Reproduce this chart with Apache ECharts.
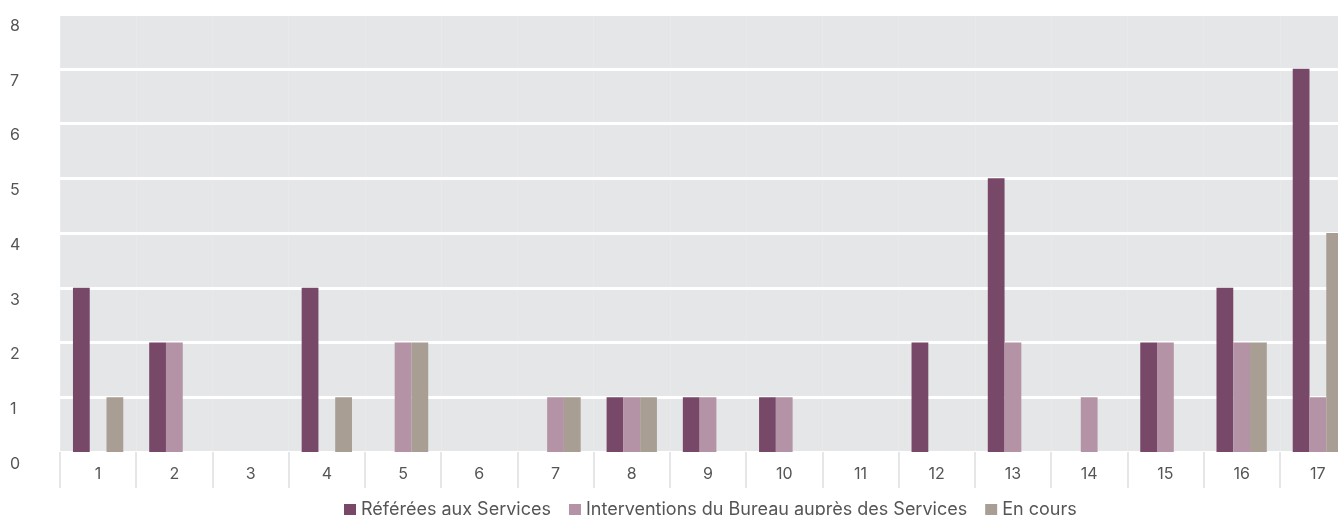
<!DOCTYPE html>
<html>
<head>
<meta charset="utf-8">
<script src="https://cdn.jsdelivr.net/npm/echarts@6/dist/echarts.min.js"></script>
<style>
  html, body { margin: 0; padding: 0; background: #ffffff; overflow: hidden; }
  #chart { width: 1338px; height: 515px; }
</style>
</head>
<body>
<div id="chart"></div>
<script>
// Categories along the x axis
const categories = ['1','2','3','4','5','6','7','8','9','10','11','12','13','14','15','16','17'];

// Series names
const seriesNames = ['Référées aux Services', 'Interventions du Bureau auprès des Services', 'En cours'];

// Values per category
const referees      = [3, 2, 0, 3, 0, 0, 0, 1, 1, 1, 0, 2, 5, 0, 2, 3, 7];
const interventions = [0, 2, 0, 0, 2, 0, 1, 1, 1, 1, 0, 0, 2, 1, 2, 2, 1];
const enCours       = [1, 0, 0, 1, 2, 0, 1, 1, 0, 0, 0, 0, 0, 0, 0, 2, 4];

const colors = ['#784869', '#b393a5', '#a89e93'];
const textColor = '#555555';
const fontFamily = 'Inter, Roboto, "Noto Sans", sans-serif';

const chart = echarts.init(document.getElementById('chart'), null, { renderer: 'canvas' });

chart.setOption({
  animation: false,
  color: colors,
  textStyle: { fontFamily: fontFamily },
  grid: {
    left: 60,
    top: 14,
    width: 1296,
    bottom: 63,
    outerBoundsMode: 'none',
    containLabel: false,
    show: true,
    backgroundColor: '#e5e6e8',
    borderWidth: 0
  },
  legend: {
    data: seriesNames,
    left: 339,
    top: 496,
    icon: 'rect',
    itemWidth: 12,
    itemHeight: 12,
    itemGap: 18,
    textStyle: { color: textColor, fontSize: 18, fontFamily: fontFamily }
  },
  xAxis: {
    type: 'category',
    data: categories,
    axisLine: { show: false },
    axisTick: {
      show: true,
      interval: 0,
      length: 36,
      lineStyle: { color: '#e5e6e8', width: 2 }
    },
    splitLine: {
      show: true,
      interval: 0,
      lineStyle: { color: 'rgba(255,255,255,0.15)', width: 1 }
    },
    axisLabel: {
      color: textColor,
      fontSize: 16,
      margin: 14,
      interval: 0
    }
  },
  yAxis: {
    type: 'value',
    min: 0,
    max: 8,
    interval: 1,
    axisLine: { show: false },
    axisTick: { show: false },
    splitLine: { lineStyle: { color: '#ffffff', width: 3 } },
    axisLabel: {
      color: textColor,
      fontSize: 16,
      align: 'left',
      verticalAlign: 'top',
      padding: [4, 0, 0, 0],
      margin: 50
    }
  },
  series: [
    { name: seriesNames[0], type: 'bar', data: referees, barGap: '0%', barCategoryGap: '34%' },
    { name: seriesNames[1], type: 'bar', data: interventions, barGap: '0%', barCategoryGap: '34%' },
    { name: seriesNames[2], type: 'bar', data: enCours, barGap: '0%', barCategoryGap: '34%' }
  ]
});
</script>
</body>
</html>
